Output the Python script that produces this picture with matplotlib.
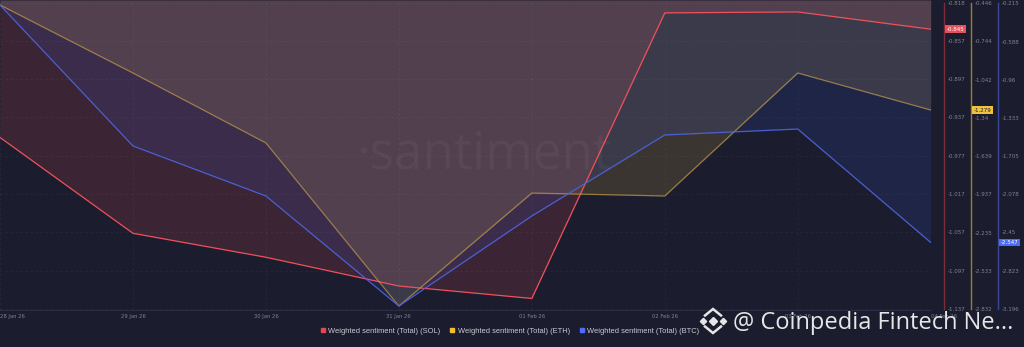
import numpy as np
import matplotlib.pyplot as plt
from matplotlib.lines import Line2D
from matplotlib.transforms import blended_transform_factory

# ---------------- data ----------------
dates = ['28 Jan 26', '29 Jan 26', '30 Jan 26', '31 Jan 26',
         '01 Feb 26', '02 Feb 26', '03 Feb 26', '04 Feb 26']

sol = [-0.958, -1.058, -1.083, -1.113, -1.126, -0.828, -0.827, -0.845]
eth = [-0.459, -0.990, -1.536, -2.809, -1.927, -1.950, -0.990, -1.279]
btc = [-0.232, -1.606, -2.094, -3.167, -2.289, -1.499, -1.441, -2.547]

sol_ticks = [-0.818, -0.857, -0.897, -0.937, -0.977, -1.017, -1.057, -1.097, -1.137]
eth_ticks = [-0.446, -0.744, -1.042, -1.34, -1.639, -1.937, -2.235, -2.533, -2.832]
btc_ticks = [-0.215, -0.588, -0.96, -1.333, -1.705, -2.078, -2.45, -2.823, -3.196]

labels = ['Weighted sentiment (Total) (SOL)',
          'Weighted sentiment (Total) (ETH)',
          'Weighted sentiment (Total) (BTC)']

# ---------------- style ----------------
W, H = 1024, 347
BG = '#1b1d2e'
TICKC = '#80838f'

#            fill colour, alpha, line colour, line alpha, spine colour, box colour, box text
styles = [('#ff5b5b', 0.14, '#f0505a', 1.0, '#7e2c3a', '#e5525b', 'white'),
          ('#ffcb47', 0.14, '#c9a24a', 0.65, '#9c7d28', '#f2c23e', '#1b1d2e'),
          ('#3c60ff', 0.12, '#4b63d8', 0.95, '#3a4698', '#4a6cf7', 'white')]
spine_px = [944, 971, 998]

fig = plt.figure(figsize=(W / 100, H / 100), dpi=100)
fig.patch.set_facecolor(BG)

ax_w = 930.7
ax_h = 309.5
ax = fig.add_axes([0, 1 - ax_h / H, ax_w / W, ax_h / H])
ax.set_facecolor(BG)
axes = [ax, ax.twinx(), ax.twinx()]

x = np.arange(len(dates))
series = [(sol, sol_ticks), (eth, eth_ticks), (btc, btc_ticks)]

tops = []
for a, (vals, ticks), st, sp in zip(axes, series, styles, spine_px):
    per = (ticks[0] - ticks[-1]) / 305.7
    top = ticks[0] + 3.3 * per
    bot = ticks[-1] - 0.5 * per
    tops.append((bot, top))
    a.set_xlim(0, len(dates) - 1)
    a.set_ylim(bot, top)
    # area is filled from the line up to the top of the chart
    a.fill_between(x, vals, top, color=st[0], alpha=st[1], lw=0, zorder=1)
    a.yaxis.tick_right()
    a.set_yticks(ticks)
    a.set_yticklabels([str(t) for t in ticks])
    a.tick_params(axis='y', length=0, pad=2.5, labelsize=4, labelcolor=TICKC)
    for s in ['left', 'top', 'bottom']:
        a.spines[s].set_visible(False)
    a.spines['right'].set_position(('axes', sp / ax_w))
    a.spines['right'].set_bounds(ticks[-1], ticks[0])
    a.spines['right'].set_color(st[4])
    a.spines['right'].set_linewidth(1.0)
    # current value box
    tr = blended_transform_factory(a.transAxes, a.transData)
    a.text((sp + 2.5) / ax_w, vals[-1], '%.3f' % vals[-1], transform=tr,
           fontsize=4, color=st[6], ha='left', va='center', zorder=10,
           bbox=dict(boxstyle='square,pad=0.25', fc=st[5], ec='none'))

# lines on top of every fill
top_ax = axes[-1]
for a, (vals, ticks), st in zip(axes, series, styles):
    top_ax.plot(x, vals, color=st[2], alpha=st[3], lw=0.9, transform=a.transData, zorder=5)
for a, lim in zip(axes, tops):
    a.set_xlim(0, len(dates) - 1)
    a.set_ylim(*lim)

# x axis
ax.spines['bottom'].set_visible(True)
ax.spines['bottom'].set_color('#2b2e42')
ax.spines['bottom'].set_linewidth(0.8)
ax.set_xticks(x)
ax.set_xticklabels(dates)
ax.tick_params(axis='x', length=0, pad=3, labelsize=3.8, labelcolor=TICKC)
xl = ax.get_xticklabels()
xl[0].set_ha('left')
xl[-1].set_ha('left')
ax.grid(True, color='white', alpha=0.05, lw=0.6, ls=(0, (3, 3)))

# watermark
fig.text(484 / W, 1 - 168 / H, '·santiment', fontsize=37, family='Open Sans',
         color='white', alpha=0.04, ha='center', va='baseline')

# legend
handles = [Line2D([], [], marker='s', ls='none', color=c, markersize=3.2)
           for c in ['#e8464f', '#f2bd35', '#506ef8']]
fig.legend(handles, labels, loc='center', bbox_to_anchor=(510 / W, 1 - 331 / H), ncol=3,
           frameon=False, fontsize=5.4, labelcolor='#c9cbd6', handlelength=0.6,
           handletextpad=0.4, columnspacing=1.3, prop={'family': 'Liberation Sans', 'size': 5.4})

# source mark with logo
def fpx(px, py):
    return px / W, 1 - py / H

LOGO = '#e6e6e6'
cx, cy = 713, 321
for dx, ms in [(0, 4.5), (-10, 3.2), (10, 3.2)]:
    fig.add_artist(Line2D([fpx(cx + dx, cy)[0]], [fpx(cx + dx, cy)[1]], marker='D', ms=ms,
                          color=LOGO, ls='none', transform=fig.transFigure))
for sgn in [-1, 1]:
    pts = [fpx(cx - 8, cy + sgn * 5.5), fpx(cx, cy + sgn * 12), fpx(cx + 8, cy + sgn * 5.5)]
    fig.add_artist(Line2D([p[0] for p in pts], [p[1] for p in pts], lw=1.8, color=LOGO,
                          solid_joinstyle='miter', transform=fig.transFigure))
fig.text(733 / W, 1 - 329 / H, '@ Coinpedia Fintech Ne...', fontsize=17, family='Open Sans',
         color=LOGO, ha='left', va='baseline')

fig.savefig('out.png', dpi=100, facecolor=BG)
